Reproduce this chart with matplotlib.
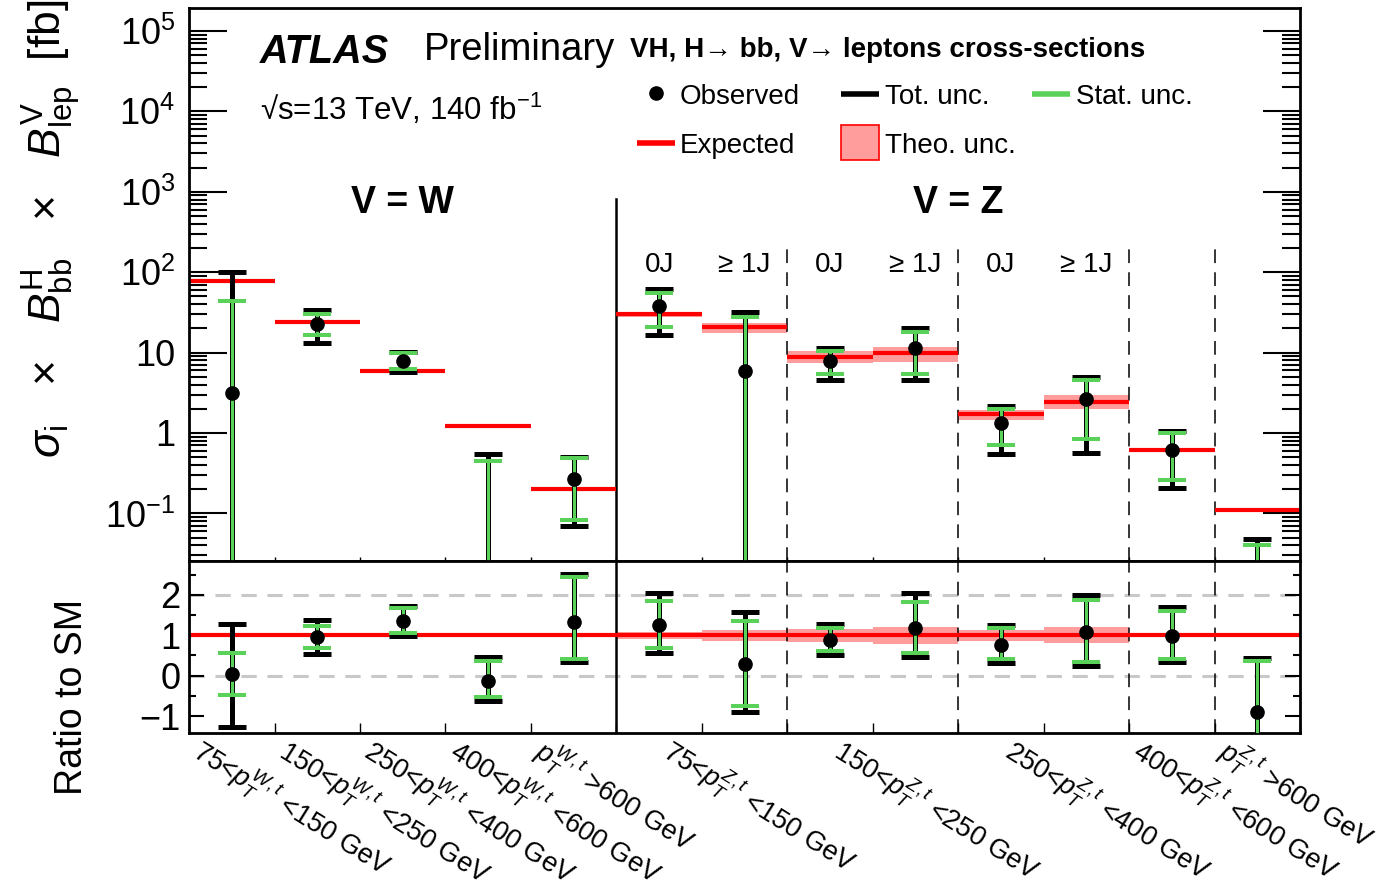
import numpy as np
import matplotlib.pyplot as plt
from matplotlib.ticker import FixedLocator, MultipleLocator, LogLocator, NullFormatter
from matplotlib.transforms import blended_transform_factory, ScaledTranslation
from matplotlib.patches import Rectangle

plt.rcParams['font.family'] = ['Liberation Sans', 'DejaVu Sans']
plt.rcParams['mathtext.fontset'] = 'custom'
plt.rcParams['mathtext.rm'] = 'Liberation Sans'
plt.rcParams['mathtext.it'] = 'Liberation Sans:italic'
plt.rcParams['mathtext.bf'] = 'Liberation Sans:bold'

# ---- data ----
# 13 measurement bins: 5 W bins, then 8 Z bins
expected = np.array([78, 24.2, 5.9, 1.22, 0.20, 29.9, 20.6, 8.9, 9.8, 1.71, 2.45, 0.62, 0.111])  # fb
mu = np.array([0.04, 0.95, 1.35, -0.12, 1.33, 1.26, 0.29, 0.89, 1.17, 0.77, 1.08, 0.98, -0.90])   # ratio to SM
tot_up = np.array([1.25, 0.44, 0.37, 0.575, 1.19, 0.78, 1.28, 0.40, 0.87, 0.49, 0.93, 0.72, 1.33])
tot_dn = np.array([1.32, 0.41, 0.37, 0.50, 0.98, 0.71, 1.20, 0.38, 0.71, 0.45, 0.85, 0.65, 1.40])
stat_up = np.array([0.52, 0.29, 0.32, 0.49, 1.12, 0.58, 1.07, 0.30, 0.66, 0.40, 0.80, 0.62, 1.26])
stat_dn = np.array([0.51, 0.27, 0.29, 0.41, 0.92, 0.57, 1.05, 0.29, 0.61, 0.36, 0.74, 0.56, 1.30])
theo = np.array([0.02, 0.02, 0.02, 0.02, 0.02, 0.08, 0.14, 0.16, 0.21, 0.14, 0.20, 0.04, 0.02])  # relative

njet_labels = ['0J', '\u2265 1J', '0J', '\u2265 1J', '0J', '\u2265 1J']
xlabels = [r'75<$p_T^{W,t}$ <150 GeV', r'150<$p_T^{W,t}$ <250 GeV', r'250<$p_T^{W,t}$ <400 GeV',
           r'400<$p_T^{W,t}$ <600 GeV', r'$p_T^{W,t}$ >600 GeV',
           r'75<$p_T^{Z,t}$ <150 GeV', r'150<$p_T^{Z,t}$ <250 GeV', r'250<$p_T^{Z,t}$ <400 GeV',
           r'400<$p_T^{Z,t}$ <600 GeV', r'$p_T^{Z,t}$ >600 GeV']
xlabel_bins = [[0], [1], [2], [3], [4], [5, 6], [7, 8], [9, 10], [11], [12]]

nb = len(expected)
x = np.arange(nb) + 0.5
nW = 5

fig = plt.figure(figsize=(13.84, 8.96), dpi=100)
ax = fig.add_axes([0.1366, 0.3739, 0.8027, 0.6172])
ax2 = fig.add_axes([0.1366, 0.1819, 0.8027, 0.1920])

green = '#5ad25a'
pink = '#ff9d9d'


def draw_err(a, lo, hi, color, lw, capw, z):
    a.vlines(x, lo, hi, colors=color, lw=lw, zorder=z)
    a.plot(x, hi, ls='none', marker='_', ms=19.5, mew=capw, color=color, zorder=z)
    a.plot(x, lo, ls='none', marker='_', ms=19.5, mew=capw, color=color, zorder=z)


# ---- top panel ----
floor = 1e-4
ax.bar(x, expected * 2 * theo, bottom=expected * (1 - theo), width=1, color=pink, lw=0, zorder=1)
ax.hlines(expected, x - 0.5, x + 0.5, colors='red', lw=3, zorder=2)
draw_err(ax, np.clip((mu - tot_dn) * expected, floor, None), (mu + tot_up) * expected, 'k', 3.6, 3.6, 3)
draw_err(ax, np.clip((mu - stat_dn) * expected, floor, None), (mu + stat_up) * expected, green, 2.2, 2.9, 4)
ax.plot(x, np.where(mu > 0, mu * expected, np.nan), 'o', color='k', ms=9.5, zorder=5)

ax.set_yscale('log')
ax.set_xlim(0, nb)
ax.set_ylim(0.0256, 1.93e5)
ax.yaxis.set_major_locator(FixedLocator([1e-1, 1, 10, 1e2, 1e3, 1e4, 1e5]))
ax.set_yticklabels([r'$10^{-1}$', '1', '10', r'$10^{2}$', r'$10^{3}$', r'$10^{4}$', r'$10^{5}$'])
ax.yaxis.set_minor_locator(LogLocator(base=10, subs=np.arange(2, 10), numticks=20))
ax.yaxis.set_minor_formatter(NullFormatter())
ax.tick_params(axis='y', which='major', direction='in', length=27, width=1.5, labelsize=26, pad=10, right=True)
ax.tick_params(axis='y', which='minor', direction='in', length=13, width=1.5, right=True)
ax.set_xticks(np.arange(nb + 1))
ax.tick_params(axis='x', which='major', direction='in', length=3, width=1, labelbottom=False)

# separators
ax.axvline(nW, ymin=0, ymax=0.655, color='k', lw=1.8, zorder=1.5)
for b in [7, 9, 11, 12]:
    ax.axvline(b, ymin=0, ymax=0.575, color='k', lw=1.1, ls=(0, (9, 6)), zorder=1.5)
    ax2.axvline(b, color='k', lw=1.1, ls=(0, (9, 6)), zorder=1.5)
ax2.axvline(nW, color='k', lw=1.8, zorder=1.5)

tx = blended_transform_factory(ax.transData, ax.transAxes)
ax.text(nW / 2, 0.629, 'V = W', transform=tx, ha='center', va='baseline', fontsize=27, fontweight='bold')
ax.text((nW + nb) / 2, 0.629, 'V = Z', transform=tx, ha='center', va='baseline', fontsize=27, fontweight='bold')
for i, lab in enumerate(njet_labels):
    ax.text(x[nW + i], 0.5226, lab, transform=tx, ha='center', va='baseline', fontsize=20)

# header texts
ax.text(0.0639, 0.9005, 'ATLAS', transform=ax.transAxes, fontsize=28.5, fontweight='bold', style='italic', va='baseline')
ax.text(0.2115, 0.906, 'Preliminary', transform=ax.transAxes, fontsize=27.5, va='baseline')
ax.text(0.397, 0.9114, 'VH, H\u2192 bb, V\u2192 leptons cross-sections', transform=ax.transAxes,
        fontsize=20, fontweight='bold', va='baseline')
ax.text(0.0639, 0.7975, '\u221as=13 TeV, 140 fb$^{-1}$', transform=ax.transAxes, fontsize=22.5, va='baseline')

# legend (ROOT style, drawn by hand)
lcol = [0.403, 0.587, 0.759]
lrow = [0.8445, 0.756]
hl = 0.034
tr = ax.transAxes
ax.plot([lcol[0] + hl / 2], [lrow[0] + 0.002], 'o', color='k', ms=9.5, transform=tr)
ax.plot([lcol[0], lcol[0] + hl], [lrow[1]] * 2, color='red', lw=4, transform=tr, solid_capstyle='butt')
ax.plot([lcol[1], lcol[1] + hl], [lrow[0]] * 2, color='k', lw=4, transform=tr, solid_capstyle='butt')
ax.add_patch(Rectangle((lcol[1], lrow[1] - 0.0315), hl, 0.063, transform=tr, facecolor=pink, edgecolor='red', lw=1.2))
ax.plot([lcol[2], lcol[2] + hl], [lrow[0]] * 2, color=green, lw=4, transform=tr, solid_capstyle='butt')
for c, r, t in [(0, 0, 'Observed'), (0, 1, 'Expected'), (1, 0, 'Tot. unc.'), (1, 1, 'Theo. unc.'), (2, 0, 'Stat. unc.')]:
    ax.text(lcol[c] + hl + 0.005, lrow[r], t, transform=tr, fontsize=20, va='center_baseline')

# ---- ratio panel ----
ax2.axhline(0, color='#c8c8c8', lw=2.2, ls=(0, (5, 3.5)), zorder=0.5)
ax2.axhline(2, color='#c8c8c8', lw=2.2, ls=(0, (5, 3.5)), zorder=0.5)
ax2.bar(x, 2 * theo, bottom=1 - theo, width=1, color=pink, lw=0, zorder=1)
ax2.axhline(1, color='red', lw=3, zorder=2)
draw_err(ax2, mu - tot_dn, mu + tot_up, 'k', 3.6, 3.6, 3)
draw_err(ax2, mu - stat_dn, mu + stat_up, green, 2.2, 2.9, 4)
ax2.plot(x, mu, 'o', color='k', ms=9.5, zorder=5)

ax2.set_xlim(0, nb)
ax2.set_ylim(-1.42, 2.84)
ax2.yaxis.set_major_locator(MultipleLocator(1))
ax2.yaxis.set_minor_locator(MultipleLocator(0.5))
ax2.tick_params(axis='y', which='major', direction='in', length=11, width=1.5, labelsize=26, pad=6, right=True)
ax2.tick_params(axis='y', which='minor', direction='in', length=5, width=1.5, right=True)
ax2.set_xticks(np.arange(nb + 1))
ax2.tick_params(axis='x', which='major', direction='in', length=7, width=1, labelbottom=False)

for a in (ax, ax2):
    for s in a.spines.values():
        s.set_linewidth(2)

# rotated bin labels
tl = blended_transform_factory(ax2.transData, ax2.transAxes) + ScaledTranslation(-0.26, 0.0, fig.dpi_scale_trans)
for bins, lab in zip(xlabel_bins, xlabels):
    xc = np.mean(bins) + 0.5
    ax2.text(xc, 0, lab, transform=tl, rotation=-32, rotation_mode='anchor', ha='left', va='top', fontsize=19.5)

fig.text(0.037, 0.745, r'$\sigma_{\mathrm{i}}$   $\times$   $B^{\mathrm{H}}_{\mathrm{bb}}$   $\times$   $B^{\mathrm{V}}_{\mathrm{lep}}$  [fb]',
         rotation=90, ha='center', va='center', fontsize=32)
fig.text(0.052, 0.222, 'Ratio to SM', rotation=90, ha='center', va='center', fontsize=27)

fig.savefig('out.png', dpi=100)
